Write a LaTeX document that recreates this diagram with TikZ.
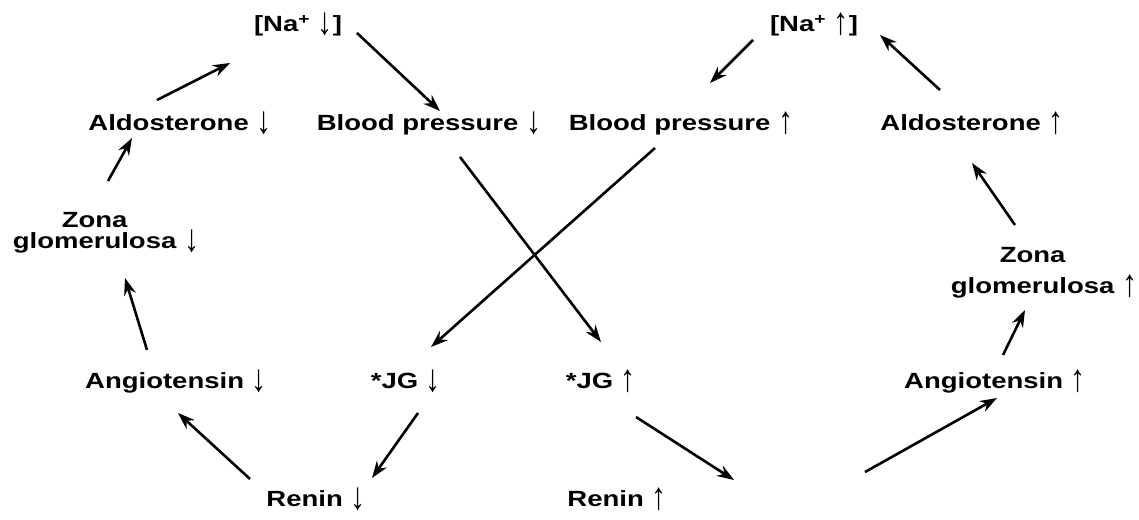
\documentclass[tikz,border=0pt]{standalone}
\usepackage{fontspec}
\usepackage{graphicx}
\newfontfamily\lab{Liberation Sans}[FakeStretch=1.25]
\usetikzlibrary{arrows.meta}
\newcommand{\dn}{\ \raisebox{-3pt}{\mdseries\scalebox{1.1}[1.75]{↓}}}
\newcommand{\up}{\ \raisebox{-3pt}{\mdseries\scalebox{1.1}[1.75]{↑}}}
\begin{document}
\begin{tikzpicture}[x=1pt,y=-1pt,
  lbl/.style={anchor=base,inner sep=0pt,font=\lab\bfseries\fontsize{22}{26}\selectfont},
  arr/.style={line width=2.6pt,-{Stealth[length=17pt,width=12pt]}}]
\useasboundingbox (0,0) rectangle (1139,519);
% nodes
\node[lbl] (na1) at (298,32) {[Na\textsuperscript{+}\dn]};
\node[lbl] (na2) at (814,32) {[Na\textsuperscript{+}\up]};
\node[lbl] (ald1) at (180,130) {Aldosterone\dn};
\node[lbl] (bp1) at (429,130) {Blood pressure\dn};
\node[lbl] (bp2) at (681,130) {Blood pressure\up};
\node[lbl] (ald2) at (972,130) {Aldosterone\up};
\node[lbl] (zon1) at (106,248) {\begin{tabular}[b]{@{}c@{}}Zona\\[-5pt]glomerulosa\end{tabular}\dn};
\node[lbl] (zon2) at (1044,293) {\begin{tabular}[b]{@{}c@{}}Zona\\[5pt]glomerulosa\end{tabular}\up};
\node[lbl] (ang1) at (176,388) {Angiotensin\dn};
\node[lbl] (jg1) at (406,388) {*JG\dn};
\node[lbl] (jg2) at (601,388) {*JG\up};
\node[lbl] (ang2) at (995,388) {Angiotensin\up};
\node[lbl] (ren1) at (316,506) {Renin\dn};
\node[lbl] (ren2) at (617,506) {Renin\up};
% connectors
\draw[arr] ([shift={(-23,-30)}]ald1.base) -- ([shift={(-68,31)}]na1.base);
\draw[arr] ([shift={(59,1)}]na1.base) -- ([shift={(11,-19)}]bp1.base);
\draw[arr] ([shift={(2,-67)}]zon1.base) -- ([shift={(-48,8)}]ald1.base);
\draw[arr] ([shift={(-29,-38)}]ang1.base) -- ([shift={(19,30)}]zon1.base);
\draw[arr] ([shift={(-66,-27)}]ren1.base) -- ([shift={(2,25)}]ang1.base);
\draw[arr] ([shift={(12,25)}]jg1.base) -- ([shift={(56,-28)}]ren1.base);
\draw[arr] ([shift={(31,27)}]bp1.base) -- ([shift={(0,-46)}]jg2.base);
\draw[arr] ([shift={(-26,18)}]bp2.base) -- ([shift={(25,-41)}]jg1.base);
\draw[arr] ([shift={(35,29)}]jg2.base) -- ([shift={(117,-26)}]ren2.base);
\draw[arr] ([shift={(248,-34)}]ren2.base) -- ([shift={(2,10)}]ang2.base);
\draw[arr] ([shift={(8,-33)}]ang2.base) -- ([shift={(-19,17)}]zon2.base);
\draw[arr] ([shift={(-29,-68)}]zon2.base) -- ([shift={(0,33)}]ald2.base);
\draw[arr] ([shift={(-32,-40)}]ald2.base) -- ([shift={(66,3)}]na2.base);
\draw[arr] ([shift={(-61,8)}]na2.base) -- ([shift={(29,-47)}]bp2.base);
\end{tikzpicture}
\end{document}
